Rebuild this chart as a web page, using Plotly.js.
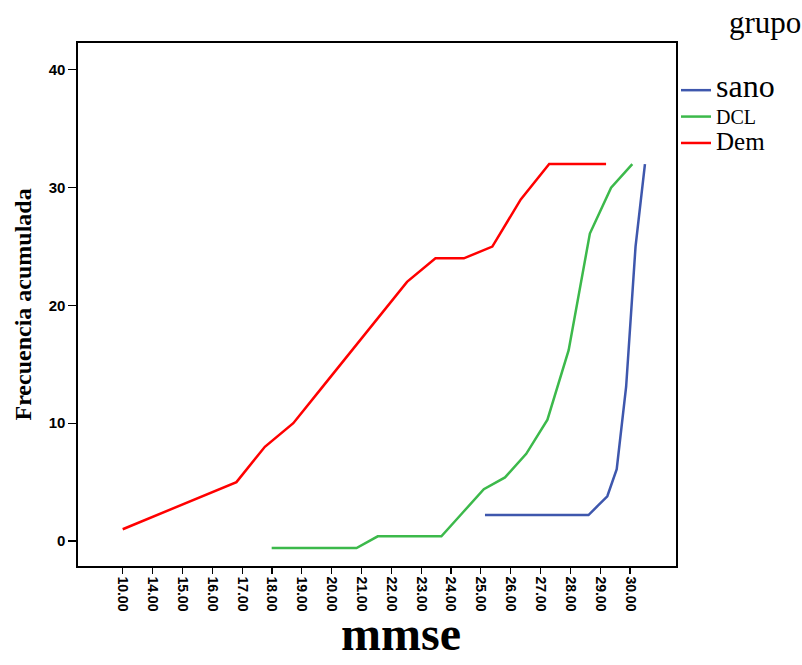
<!DOCTYPE html>
<html>
<head>
<meta charset="utf-8">
<script src="https://cdn.plot.ly/plotly-3.0.1.min.js"></script>
<style>
  html, body { margin: 0; padding: 0; background: #ffffff; }
  #chart { width: 802px; height: 665px; }
</style>
</head>
<body>
<div id="chart"></div>
<script>
// ---- data ----
const categories = ['10.00','14.00','15.00','16.00','17.00','18.00','19.00','20.00','21.00',
                    '22.00','23.00','24.00','25.00','26.00','27.00','28.00','29.00','30.00'];
const sano = [2.2, 2.2, 2.2, 2.2, 2.2, 2.2, 2.2, 2.2, 2.2, 2.2, 2.2, 2.2, 3.0, 3.8, 6.1, 13.1, 25, 32];
const dcl  = [-0.6, -0.6, -0.6, -0.6, -0.6, 0.4, 0.4, 0.4, 0.4, 2.4, 4.4, 5.4, 7.4, 10.3, 16.2, 26.1, 30, 32];
const dem  = [1, 2, 3, 4, 5, 8, 10, 13, 16, 19, 22, 24, 24, 25, 29, 32, 32, 32];
const seriesNames = ['sano', 'DCL', 'Dem'];
const yTicks = [0, 10, 20, 30, 40];

const colors = { sano: '#3e57ad', DCL: '#3cb94b', Dem: '#ff0000' };
const serif = 'Liberation Serif, Times New Roman, serif';
const sans = 'Liberation Sans, Arial, sans-serif';

const traces = [
  { type: 'scatter', mode: 'lines', x: categories, y: sano, xaxis: 'x4', yaxis: 'y',
    name: '<span style="font-size:32px">' + seriesNames[0] + '</span>',
    line: { color: colors.sano, width: 2.5 } },
  { type: 'scatter', mode: 'lines', x: categories, y: dcl, xaxis: 'x3', yaxis: 'y',
    name: '<span style="font-size:20px">' + seriesNames[1] + '</span>',
    line: { color: colors.DCL, width: 2.5 } },
  { type: 'scatter', mode: 'lines', x: categories, y: dem, xaxis: 'x2', yaxis: 'y',
    name: '<span style="font-size:25px">' + seriesNames[2] + '</span>',
    line: { color: colors.Dem, width: 2.5 } },
  { type: 'scatter', mode: 'lines', x: [], y: [], xaxis: 'x', yaxis: 'y', showlegend: false, hoverinfo: 'skip' }
];

const hiddenCat = (range) => ({
  type: 'category', overlaying: 'x', visible: false, range: range,
  categoryorder: 'array', categoryarray: categories, anchor: 'y'
});

const layout = {
  width: 802, height: 665,
  margin: { l: 78, r: 126, t: 43, b: 99, pad: 0 },
  paper_bgcolor: '#ffffff', plot_bgcolor: '#ffffff',
  showlegend: true,
  xaxis: {
    type: 'linear', range: [-1.5, 18.54],
    tickmode: 'array', tickvals: categories.map((c, i) => i), ticktext: categories,
    tickangle: 90, ticks: 'outside', ticklen: 6, tickwidth: 1.2, tickcolor: '#000',
    showline: true, mirror: true, linecolor: '#000', linewidth: 1.6,
    showgrid: false, zeroline: false,
    tickfont: { family: sans, size: 14, color: '#000', weight: 'bold' }
  },
  xaxis2: hiddenCat([-1.572, 19.46]),
  xaxis3: hiddenCat([-9.13, 19.06]),
  xaxis4: hiddenCat([-43.25, 20.30]),
  yaxis: {
    range: [-2.12, 42.28], tickmode: 'array', tickvals: yTicks, ticktext: yTicks.map(String),
    ticks: 'outside', ticklen: 8, tickwidth: 1.2, tickcolor: '#000',
    showline: true, mirror: true, linecolor: '#000', linewidth: 1.6,
    showgrid: false, zeroline: false,
    tickfont: { family: sans, size: 15, color: '#000', weight: 'bold' }
  },
  legend: {
    x: 1.0, xanchor: 'left', y: 0.9446, yanchor: 'top',
    font: { family: serif, size: 18, color: '#000' },
    bgcolor: 'rgba(0,0,0,0)', borderwidth: 0, tracegroupgap: 0, itemwidth: 30
  },
  annotations: [
    { text: 'grupo', xref: 'paper', yref: 'paper', x: 1.1488, y: 1.040,
      xanchor: 'center', yanchor: 'middle', showarrow: false,
      font: { family: serif, size: 31, color: '#000' } },
    { text: 'Frecuencia acumulada', xref: 'paper', yref: 'paper', x: -0.0936, y: 0.5,
      xanchor: 'center', yanchor: 'middle', textangle: -90, showarrow: false,
      font: { family: serif, size: 24, color: '#000', weight: 'bold' } },
    { text: 'mmse', xref: 'paper', yref: 'paper', x: 0.540, y: -0.1835,
      xanchor: 'center', yanchor: 'bottom', showarrow: false,
      font: { family: serif, size: 48, color: '#000', weight: 'bold' } }
  ]
};

Plotly.newPlot('chart', traces, layout, { staticPlot: true, displayModeBar: false });
</script>
</body>
</html>
